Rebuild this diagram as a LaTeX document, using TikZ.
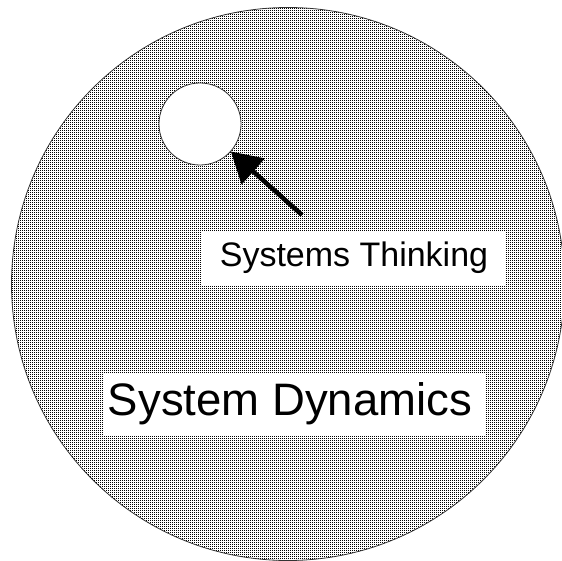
\documentclass[tikz,border=0pt]{standalone}
\usepackage{fontspec}
\setmainfont{Liberation Sans}
\usetikzlibrary{arrows.meta,patterns}

% fine dot screen for the big circle
\pgfdeclarepatternformonly{finedots}{\pgfpointorigin}{\pgfqpoint{1pt}{1pt}}{\pgfqpoint{2pt}{2pt}}{%
  \pgfpathrectangle{\pgfpointorigin}{\pgfqpoint{1pt}{1pt}}\pgfusepath{fill}}

\begin{document}
\begin{tikzpicture}[
        x=1pt, y=-1pt,
        field/.style = {circle, draw=black!80, line width=0.8pt, pattern=finedots, pattern color=black, inner sep=0pt},
        hole/.style = {circle, draw=black!80, line width=0.8pt, fill=white, inner sep=0pt},
        tag/.style = {rectangle, fill=white, inner sep=0pt, align=center},
        arrow/.style = {line width=4.5pt, -{Triangle[length=30pt,width=34pt]}}
    ]
    \useasboundingbox (0,0) rectangle (562,561);

    % ================= CIRCLES =================
    \node[field, minimum size=553pt] (sd) at (288,284) {};
    \node[hole, minimum size=82pt] (st) at (200,124) {};

    % ================= LABELS =================
    \node[tag, minimum width=304pt, minimum height=54pt, font=\fontsize{34}{40}\selectfont] (stlabel) at (354,258) {Systems Thinking};
    \node[tag, minimum width=382pt, minimum height=62pt, font=\fontsize{45.5}{52}\selectfont] (sdlabel) at (294,404) {System Dynamics\kern8pt};

    % pointer to the small circle
    \coordinate (tail) at (302,215);
    \draw[arrow] (tail) -- (st);

\end{tikzpicture}
\end{document}
